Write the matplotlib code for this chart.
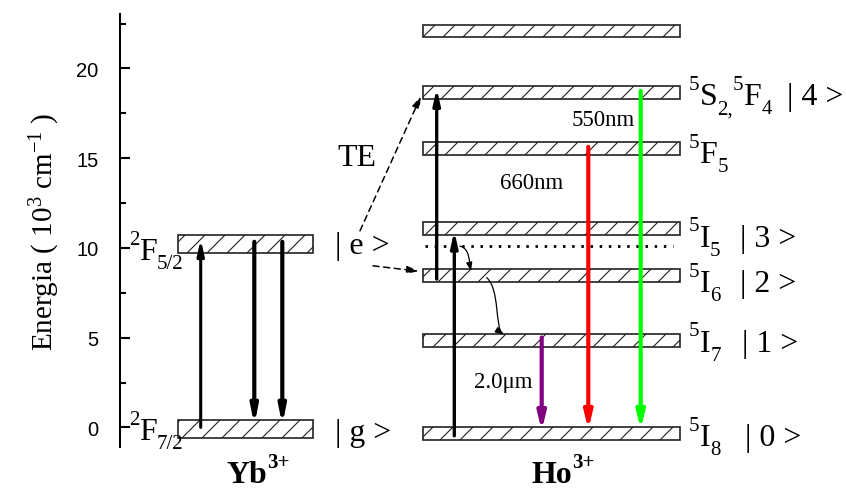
import matplotlib
matplotlib.use('Agg')
import matplotlib.pyplot as plt
import matplotlib.transforms as mtransforms
from matplotlib.patches import Rectangle, FancyArrowPatch
from matplotlib.path import Path
from matplotlib.ticker import MultipleLocator

W, H, DPI = 846, 490, 120
K = 100 / DPI  # sizes below are tuned for 100 dpi; scale to actual dpi

plt.rcParams['mathtext.fontset'] = 'custom'
plt.rcParams['mathtext.rm'] = 'Liberation Serif'
plt.rcParams['mathtext.it'] = 'Liberation Serif:italic'
plt.rcParams['mathtext.bf'] = 'Liberation Serif:bold'
plt.rcParams['hatch.linewidth'] = 0.8 * K

# ---------------- data (energies in 10^3 cm^-1) ----------------
yb_band_low = [9.71, -0.60]
yb_band_high = [10.73, 0.42]
# term symbols as (superscript, letter, subscript)
yb_terms = [('2', 'F', '5/2'), ('2', 'F', '7/2')]
yb_term_base = [9.38, -0.65]
yb_kets = ['| e >', '| g >']
yb_ket_y = [10.12, -0.28]

ho_band_low = [21.73, 18.29, 15.17, 10.71, 8.11, 4.49, -0.71]
ho_band_high = [22.43, 19.00, 15.88, 11.42, 8.82, 5.20, 0.00]
ho_terms = [[], [('5', 'S', '2,'), ('5', 'F', '4')], [('5', 'F', '5')],
            [('5', 'I', '5')], [('5', 'I', '6')], [('5', 'I', '7')], [('5', 'I', '8')]]
ho_term_base = [None, 18.0, 14.76, 10.12, 7.61, 4.27, -1.0]
ho_kets = ['', '| 4 >', '', '| 3 >', '| 2 >', '| 1 >', '| 0 >']

virtual_level = 10.10

yb_abs_start, yb_abs_end = [0.0], [10.49]
yb_em_start, yb_em_end = [10.34, 10.34], [0.12, 0.12]
ho_pump_start, ho_pump_end = [8.26, -0.47], [18.9, 10.95]
ho_em_start = [5.01, 15.63, 18.75]
ho_em_end = [-0.19, -0.13, -0.13]
ho_em_color = ['#800080', '#ff0000', '#00ff00']
ho_em_label = ['2.0\u03bcm', '660nm', '550nm']
ho_em_label_y = [2.58, 13.67, 17.13]

# transfer (TE) arrows: start / end energies
te_start = [10.95, 9.0]
te_end = [18.46, 8.7]

# non-radiative relaxations: start / end energies
nr_start = [10.10, 8.34]
nr_end = [8.71, 5.18]

ions = [('Yb', '3+'), ('Ho', '3+')]

# ---------------- layout ----------------
fig = plt.figure(figsize=(W / DPI, H / DPI), dpi=DPI)
ax = fig.add_axes([120 / W, (490 - 448.3) / H, 726 / W, (448.3 - 15) / H])
ax.set_xlim(120, 846)
ax.set_ylim(-1.11, 23.03)
renderer = fig.canvas.get_renderer()

for s in ['top', 'right', 'bottom']:
    ax.spines[s].set_visible(False)
ax.spines['left'].set_linewidth(1.5 * K)
ax.set_xticks([])
ax.yaxis.set_major_locator(MultipleLocator(5))
ax.yaxis.set_minor_locator(MultipleLocator(2.5))
ax.set_yticks([0, 5, 10, 15, 20])
ax.tick_params(axis='y', which='major', direction='in', length=7 * K, width=1.5 * K,
               pad=15.5 * K, labelsize=14.5 * K)
ax.tick_params(axis='y', which='minor', direction='in', length=4.5 * K, width=1.5 * K)
for lab in ax.get_yticklabels():
    lab.set_fontfamily('Liberation Sans')
ax.set_ylabel('Energia ( 10$^3$ cm$^{-1}$ )', fontfamily='Liberation Serif',
              fontsize=21 * K, labelpad=10 * K)

serif = 'Liberation Serif'
MAIN, SMALL, UP, DOWN = 23 * K, 15 * K, 11 * K, -6.5 * K


def rich(x, y, parts, weight='normal'):
    """parts: list of (string, fontsize, baseline shift in points)."""
    dx = 0.0
    for s, size, dy in parts:
        tr = mtransforms.offset_copy(ax.transData, fig=fig, x=dx, y=dy, units='points')
        t = ax.text(x, y, s, fontsize=size, fontfamily=serif, fontweight=weight,
                    transform=tr, ha='left', va='baseline', clip_on=False)
        dx += t.get_window_extent(renderer).width * 72 / DPI
    return dx


def term_parts(terms):
    parts = []
    for sup, letter, sub in terms:
        parts += [(sup, SMALL, UP), (letter, MAIN, 0), (sub, SMALL, DOWN)]
    return parts


# Yb bands
YB_X0, YB_X1 = 178.3, 313.3
for lo, hi in zip(yb_band_low, yb_band_high):
    ax.add_patch(Rectangle((YB_X0, lo), YB_X1 - YB_X0, hi - lo, facecolor='white',
                           edgecolor='#222222', lw=1.2 * K, hatch='//'))
for term, y in zip(yb_terms, yb_term_base):
    rich(129, y, term_parts([term]))
for k, y in zip(yb_kets, yb_ket_y):
    ax.text(335, y, k, fontsize=MAIN, fontfamily=serif, ha='left', va='center')

# Ho bands
HO_X0, HO_X1 = 423.3, 680
for lo, hi in zip(ho_band_low, ho_band_high):
    ax.add_patch(Rectangle((HO_X0, lo), HO_X1 - HO_X0, hi - lo, facecolor='white',
                           edgecolor='#222222', lw=1.2 * K, hatch='//'))
ket_x = [None, 787, None, 740, 740, 742, 745]
for terms, yb, k, kx in zip(ho_terms, ho_term_base, ho_kets, ket_x):
    if terms:
        rich(689, yb, term_parts(terms))
    if k:
        ax.text(kx, yb, k, fontsize=MAIN, fontfamily=serif, ha='left', va='baseline')

# virtual level (dotted)
ax.plot([425, 673], [virtual_level, virtual_level], color='black', lw=2.0 * K,
        linestyle=(0, (0.9, 2.4)))


def arrow(x, y0, y1, color, lw, hl, hw):
    ax.annotate('', xy=(x, y1), xytext=(x, y0),
                arrowprops=dict(arrowstyle=f'-|>,head_length={hl},head_width={hw}',
                                color=color, lw=lw * K, shrinkA=0, shrinkB=0,
                                mutation_scale=K))


yb_abs_x = [200.7]
yb_em_x = [254.3, 282.3]
for x, a, b in zip(yb_abs_x, yb_abs_start, yb_abs_end):
    arrow(x, a, b, 'black', 2.2, 9, 2.0)
for x, a, b in zip(yb_em_x, yb_em_start, yb_em_end):
    arrow(x, a, b, 'black', 3.0, 10, 2.0)

ho_pump_x = [436.7, 454.3]
for x, a, b in zip(ho_pump_x, ho_pump_start, ho_pump_end):
    arrow(x, a, b, 'black', 2.4, 9, 2.0)

ho_em_x = [541.7, 588.3, 640.7]
ho_em_label_x = [503.5, 531.5, 603.5]
for x, a, b, c in zip(ho_em_x, ho_em_start, ho_em_end, ho_em_color):
    arrow(x, a, b, c, 3.0, 10, 2.4)
for lx, ly, t in zip(ho_em_label_x, ho_em_label_y, ho_em_label):
    ax.text(lx, ly, t, fontsize=16.5 * K, fontfamily=serif, ha='center', va='center')

# energy transfer dashed arrows
te_x0 = [360, 373]
te_x1 = [421, 419]
for x0, x1, a, b in zip(te_x0, te_x1, te_start, te_end):
    ax.annotate('', xy=(x1, b), xytext=(x0, a),
                arrowprops=dict(arrowstyle='-|>,head_length=7,head_width=2.2',
                                color='black', lw=1.1 * K, linestyle=(0, (4, 3)),
                                shrinkA=0, shrinkB=0, mutation_scale=K))
ax.text(357, 15.06, 'TE', fontsize=MAIN, fontfamily=serif, ha='center', va='center')

# wavy non-radiative arrows
nr_x0 = [460, 486.7]
nr_x1 = [471, 504]
nr_c1 = [(470, -0.15), (500, -0.65)]
nr_c2 = [(469, -0.85), (495, -2.85)]
for x0, x1, a, b, c1, c2 in zip(nr_x0, nr_x1, nr_start, nr_end, nr_c1, nr_c2):
    verts = [(x0, a), (c1[0], a + c1[1]), (c2[0], a + c2[1]), (x1, b)]
    p = Path(verts, [Path.MOVETO, Path.CURVE4, Path.CURVE4, Path.CURVE4])
    ax.add_patch(FancyArrowPatch(path=p, arrowstyle='-|>,head_length=5,head_width=1.8',
                                 mutation_scale=K, color='black', lw=0.9 * K))

# ion names
ion_x = [226.7, 531.7]
for x, (name, charge) in zip(ion_x, ions):
    rich(x, -3.05, [(name, MAIN, 0), (charge, SMALL, 11 * K)], weight='bold')

fig.savefig('out.png', dpi=DPI)
